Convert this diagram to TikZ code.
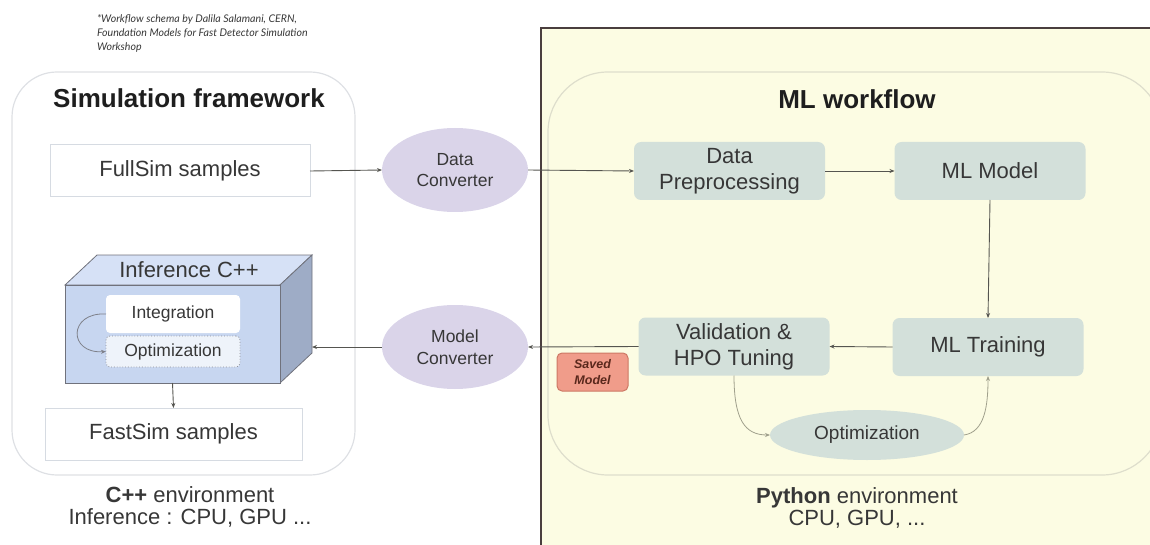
\documentclass[tikz,border=0pt]{standalone}
\usepackage{fontspec}
\setmainfont{Liberation Sans}
\newfontfamily\notefont{Lato}
\usetikzlibrary{arrows.meta, shapes.geometric, calc}

\definecolor{textgray}{RGB}{55,55,55}
\definecolor{titleblack}{RGB}{30,30,30}
\definecolor{boxline}{RGB}{214,219,226}
\definecolor{frameline}{RGB}{222,224,228}
\definecolor{lavender}{RGB}{218,212,233}
\definecolor{mlgreen}{RGB}{211,224,218}
\definecolor{paneyellow}{RGB}{252,252,227}
\definecolor{panebrown}{RGB}{74,62,62}
\definecolor{wfline}{RGB}{222,222,204}
\definecolor{arrowgray}{RGB}{85,85,80}
\definecolor{curvegray}{RGB}{160,160,140}
\definecolor{cubefront}{RGB}{199,214,240}
\definecolor{cubetop}{RGB}{214,225,246}
\definecolor{cubeside}{RGB}{158,172,198}
\definecolor{cubeedge}{RGB}{112,114,124}
\definecolor{tagfill}{RGB}{240,156,138}
\definecolor{tagline}{RGB}{205,120,100}
\definecolor{tagtext}{RGB}{90,40,28}

\begin{document}
\begin{tikzpicture}[x=1pt,y=-1pt,
  every node/.style={text=textgray, inner sep=0pt, outer sep=0pt},
  samplebox/.style={draw=boxline, line width=1pt, fill=white, minimum height=52pt,
    font=\fontsize{22}{26}\selectfont},
  convnode/.style={ellipse, fill=lavender, minimum width=146pt, minimum height=84pt,
    align=center, font=\fontsize{17.5}{21.5}\selectfont},
  mlbox/.style={rounded corners=7pt, fill=mlgreen, minimum width=191pt, minimum height=58pt,
    align=center, font=\fontsize{22}{26}\selectfont},
  innerbox/.style={rounded corners=4pt, minimum width=134pt,
    font=\fontsize{17.5}{21}\selectfont},
  flow/.style={draw=arrowgray, line width=0.9pt, -{Stealth[length=5pt,width=4pt]}},
  loopflow/.style={draw=curvegray, line width=0.8pt, -{Stealth[length=5pt,width=4pt]}},
  envlabel/.style={align=center, font=\fontsize{22}{22.5}\selectfont}]
  %\draw (0, 0) grid (1150, 545);
  \useasboundingbox (0,0) rectangle (1150,545);

  % python side
  \draw[fill=paneyellow, draw=panebrown, line width=2pt] (541,28) rectangle (1180,580);
  \draw[wfline, line width=1.2pt, rounded corners=60pt] (548,72) rectangle (1162,475);
  \draw[frameline, line width=1.2pt, rounded corners=45pt] (12,72) rectangle (355,475);

  \node[anchor=north west, align=left, text=textgray,
    font=\notefont\itshape\fontsize{10.6}{14}\selectfont] (credit) at (97,15)
    {*Workflow schema by Dalila Salamani, CERN,\\Foundation Models for Fast Detector Simulation\\Workshop};

  \node[text=titleblack, font=\bfseries\fontsize{26}{30}\selectfont] (simtitle) at (189,98) {Simulation framework};
  \node[text=titleblack, font=\bfseries\fontsize{26}{30}\selectfont] (mltitle) at (857,99) {ML workflow};

  % samples
  \node[samplebox, minimum width=260pt] (fullsim) at (180,171) {FullSim samples};
  \node[samplebox, minimum width=257pt] (fastsim) at (173.5,434) {FastSim samples};

  % cube
  \draw[cubeedge, fill=cubetop, line width=0.8pt] (65,285) -- (97,255) -- (312,255) -- (280,285) -- cycle;
  \draw[cubeedge, fill=cubeside, line width=0.8pt] (280,285) -- (312,255) -- (312,353) -- (280,383) -- cycle;
  \node[draw=cubeedge, fill=cubefront, line width=0.8pt, minimum width=215pt, minimum height=98pt] (cube) at (172.5,334) {};
  \node[font=\fontsize{22}{26}\selectfont] (cubetitle) at (189,270) {Inference C++};
  \coordinate (cubeface) at (312,347);
  \node[innerbox, fill=white, minimum height=38pt] (integ) at (173,314) {Integration};
  \node[innerbox, fill=white!70!cubefront, draw=cubeedge!80, dotted, line width=0.8pt,
    minimum height=31pt] (optbox) at (173,351.5) {Optimization};
  \draw[loopflow, draw=cubeedge!90] (integ.west) .. controls (68,312) and (68,354) .. (optbox.west);

  % converters
  \node[convnode] (dataconv) at (455,170) {Data\\Converter};
  \node[convnode] (modelconv) at (455,347) {Model\\Converter};

  % ml steps
  \node[mlbox] (dataprep) at (729.5,171) {Data\\Preprocessing};
  \node[mlbox] (mlmodel) at (990,171) {ML Model};
  \node[mlbox] (mltrain) at (988,347) {ML Training};
  \node[mlbox] (valid) at (734,346.5) {Validation \&\\HPO Tuning};
  \node[ellipse, fill=mlgreen, minimum width=194pt, minimum height=50pt,
    font=\fontsize{19}{23}\selectfont] (optim) at (867,435) {Optimization};

  \node[draw=tagline, fill=tagfill, rounded corners=5pt, line width=1pt, minimum width=71pt,
    minimum height=38pt, align=center, text=tagtext,
    font=\bfseries\itshape\fontsize{12.5}{16}\selectfont] (saved) at (592.5,372) {Saved\\Model};

  % labels
  \node[envlabel] (cppenv) at (190,507) {\textbf{C++} environment\\Inference : CPU, GPU ...};
  \node[envlabel] (pyenv) at (857,508) {\textbf{Python} environment\\CPU, GPU, ...};

  % forward
  \draw[flow] (fullsim.east) -- (dataconv.west);
  \draw[flow] (dataconv.east) -- (dataprep.west);
  \draw[flow] (dataprep.east) -- (mlmodel.west);
  \draw[flow] (mlmodel.south) -- (mltrain.north);

  % back
  \draw[flow] (mltrain.west) -- (valid.west -| valid.east);
  \draw[flow] (valid.west) -- (modelconv.east);
  \draw[flow] (modelconv.west) -- (cubeface);
  \draw[flow] (cube.south) -- (fastsim.north);

  % tuning loop
  \draw[loopflow] (valid.south) .. controls (734,420) and (745,435) .. (optim.west);
  \draw[loopflow] (optim.east) .. controls (985,432) and (988,405) .. (mltrain.south);

\end{tikzpicture}
\end{document}
